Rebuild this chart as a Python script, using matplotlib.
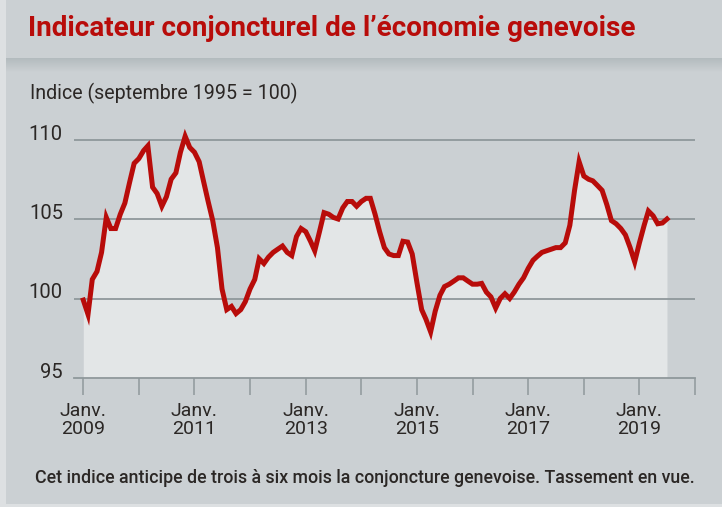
import numpy as np
import pandas as pd
import matplotlib
matplotlib.use("Agg")
from matplotlib import pyplot as plt
import matplotlib.dates as mdates

# indice mensuel, janvier 2009 -> juillet 2019
debut = "2009-01-01"
indice = [
    99.9, 99.0, 101.2, 101.7, 102.9, 105.1, 104.4, 104.4, 105.3, 106.0,
    107.3, 108.5, 108.8, 109.3, 109.6, 107.0, 106.6, 105.8, 106.4, 107.5,
    107.9, 109.2, 110.2, 109.5, 109.2, 108.6, 107.4, 106.1, 104.9, 103.2,
    100.6, 99.3, 99.5, 99.05, 99.3, 99.8, 100.6, 101.2, 102.5, 102.2,
    102.6, 102.9, 103.1, 103.3, 102.9, 102.7, 103.9, 104.4, 104.2, 103.6,
    103.0, 104.2, 105.4, 105.3, 105.1, 105.0, 105.7, 106.1, 106.1, 105.8,
    106.1, 106.3, 106.3, 105.3, 104.2, 103.2, 102.8, 102.7, 102.7, 103.6,
    103.55, 102.8, 101.0, 99.3, 98.7, 97.9, 99.2, 100.2, 100.75, 100.9,
    101.1, 101.3, 101.3, 101.1, 100.9, 100.9, 100.95, 100.4, 100.1, 99.4,
    100.0, 100.3, 100.0, 100.4, 100.9, 101.3, 101.9, 102.4, 102.65, 102.9,
    103.0, 103.1, 103.2, 103.2, 103.5, 104.6, 106.8, 108.6, 107.7, 107.5,
    107.4, 107.1, 106.8, 105.9, 104.9, 104.7, 104.4, 104.0, 103.2, 102.3,
    103.5, 104.6, 105.5, 105.2, 104.7, 104.75, 105.0,
]
y_ticks = [95, 100, 105, 110]
annees_lab = [2009, 2011, 2013, 2015, 2017, 2019]
annees_tick = list(range(2009, 2021))

titre = "Indicateur conjoncturel de l\u2019économie genevoise"
sous_titre = "Indice (septembre 1995 = 100)"
legende = "Cet indice anticipe de trois à six mois la conjoncture genevoise. Tassement en vue."

dates = pd.date_range(debut, periods=len(indice), freq="MS")

W, H = 722, 507
fond = "#cbd0d3"
rouge = "#b80c0a"
gris_ligne = "#8f989b"
texte = "#2b2725"

plt.rcParams["font.family"] = ["Roboto", "DejaVu Sans"]

fig = plt.figure(figsize=(W / 100, H / 100), dpi=100)
fig.patch.set_facecolor(fond)

# fond : bandeau titre, ombre, bord gauche
bg = fig.add_axes([0, 0, 1, 1], zorder=-5)
bg.set_xlim(0, W)
bg.set_ylim(H, 0)
bg.axis("off")
grad = np.linspace(0, 1, 50).reshape(-1, 1)
ombre = matplotlib.colors.LinearSegmentedColormap.from_list("o", ["#b3bbbe", fond])
bg.imshow(grad, cmap=ombre, extent=(0, W, 72, 58), aspect="auto", zorder=1)
bg.add_patch(plt.Rectangle((0, 0), 6, H, color="#dde0e2", zorder=2, lw=0))
bg.add_patch(plt.Rectangle((0, H - 3), W, 3, color="#dde0e2", zorder=2, lw=0))

# zone du graphique
x0, x1, ybas, yhaut = 74, 695, 378, 120
ax = fig.add_axes([x0 / W, (H - ybas) / H, (x1 - x0) / W, (ybas - yhaut) / H])
ax.set_facecolor("none")
ymin = 95
ymax = 95 + (ybas - yhaut) / 15.9
ax.set_ylim(ymin, ymax)
ax.set_xlim(pd.Timestamp("2008-11-01"), pd.Timestamp("2020-01-01"))

ax.fill_between(dates, indice, ymin, color="#e3e6e7", lw=0, zorder=1)
ax.plot(dates, indice, color=rouge, lw=3.6, solid_joinstyle="miter", zorder=3)

for v in y_ticks[1:]:
    ax.axhline(v, color=gris_ligne, lw=1.3, zorder=2)

for s in ["top", "right", "left"]:
    ax.spines[s].set_visible(False)
ax.spines["bottom"].set_color(gris_ligne)
ax.spines["bottom"].set_linewidth(1.3)

ax.set_yticks(y_ticks)
ax.set_yticklabels([str(v) for v in y_ticks])
ax.tick_params(axis="y", length=0, pad=8, labelsize=14.5, labelcolor=texte)
plt.setp(ax.get_yticklabels(), va="baseline")

ax.set_xticks([pd.Timestamp(f"{a}-01-01") for a in annees_lab])
ax.set_xticklabels([f"Janv.\n{a}" for a in annees_lab], linespacing=1.05)
ax.set_xticks([pd.Timestamp(f"{a}-01-01") for a in annees_tick if a not in annees_lab], minor=True)
ax.tick_params(axis="x", which="both", length=12, width=1.1, color=gris_ligne,
               direction="out", pad=5, labelsize=14, labelcolor=texte)


def ajuste(t, largeur):
    fig.canvas.draw()
    w = t.get_window_extent().width
    t.set_fontsize(t.get_fontsize() * largeur / w)


t1 = fig.text(28 / W, 1 - 29 / H, titre, color=rouge, fontsize=20,
              fontweight="bold", va="center", ha="left")
ajuste(t1, 607)
t2 = fig.text(30 / W, 1 - 93 / H, sous_titre, color=texte, fontsize=14,
              va="center", ha="left")
ajuste(t2, 270)
t3 = fig.text(35 / W, 1 - 478 / H, legende, color=texte, fontsize=12,
              fontweight="medium", va="center", ha="left")
ajuste(t3, 657)

fig.savefig("out.png", dpi=100, facecolor=fig.get_facecolor())
